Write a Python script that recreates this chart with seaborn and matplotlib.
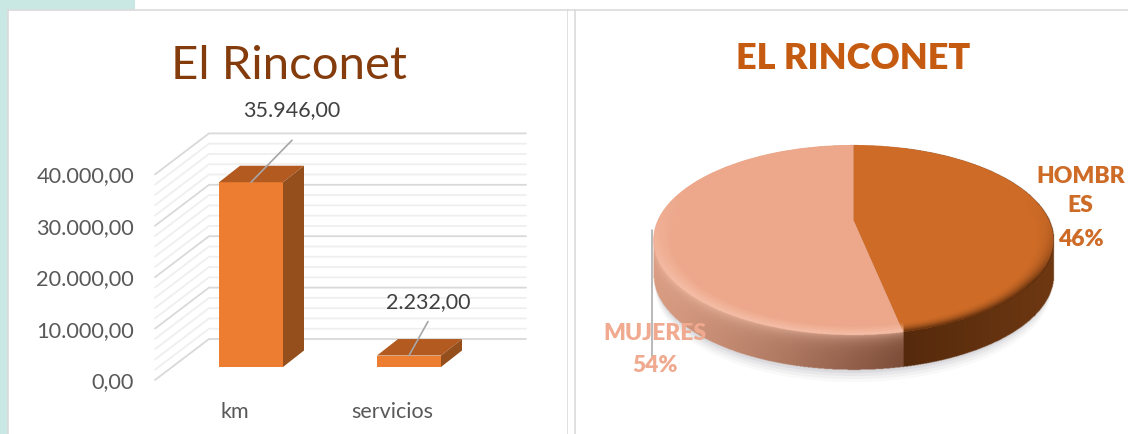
import numpy as np
import matplotlib
matplotlib.use("Agg")
import matplotlib.pyplot as plt
from matplotlib.patches import Rectangle, Polygon, Ellipse
import seaborn as sns

# data
categorias = ["km", "servicios"]
valores = [35946, 2232]
etiquetas_barras = ["35.946,00", "2.232,00"]
ticks_y = [0, 10000, 20000, 30000, 40000]
etiquetas_y = ["0,00", "10.000,00", "20.000,00", "30.000,00", "40.000,00"]
grupos = ["HOMBR\nES", "MUJERES"]
porcentajes = [46, 54]

W, H = 1128, 434
sns.set_theme(style="white")
plt.rcParams["font.family"] = ["Lato", "DejaVu Sans"]


def caja(fig, x0, y0, x1, y1, **kw):
    # axes colocado en pixeles de la imagen
    return fig.add_axes([x0 / W, 1 - y1 / H, (x1 - x0) / W, (y1 - y0) / H], **kw)


def mezcla(c1, c2, t):
    t = np.asarray(t)[..., None]
    a = np.array(matplotlib.colors.to_rgb(c1))
    b = np.array(matplotlib.colors.to_rgb(c2))
    return a * (1 - t) + b * t


fig = plt.figure(figsize=(W / 100, H / 100), dpi=100, facecolor="#C9E8E4")

# fondo y paneles
bg = caja(fig, 0, 0, W, H, zorder=0)
bg.set_xlim(0, W)
bg.set_ylim(H, 0)
bg.axis("off")
bg.add_patch(Rectangle((135, 0), W, 10, fc="white", ec="none"))
bg.add_patch(Rectangle((7.5, 9.5), 560.5, 430, fc="white", ec="#DADADA", lw=1.2))
bg.add_patch(Rectangle((568, 9.5), 7, 430, fc="white", ec="none"))
bg.add_patch(Rectangle((568, 9.5), 7, 0, ec="#DADADA", lw=1.2))
bg.add_patch(Rectangle((575, 9.5), 560, 430, fc="white", ec="#DADADA", lw=1.2))

# --- barras ---
ax = caja(fig, 155, 125, 526, 380, zorder=1)
ax.patch.set_alpha(0)
px_x = 158  # px por categoria
px_y = 51.4 / 10000  # px por unidad
x0_cat = 251


def dx(p):
    return p / px_x


def dy(p):
    return p / px_y


sns.barplot(x=categorias, y=valores, ax=ax, color="#ED7D31", saturation=1, width=0.405, linewidth=0, edgecolor="none")
ax.set_xlim(dx(155 - x0_cat), dx(526 - x0_cat))
ax.set_ylim(dy(367 - 380), dy(367 - 125))
ax.set_xlabel("")
ax.set_ylabel("")
sns.despine(ax=ax, left=True, bottom=True)

# paredes con la rejilla, cada 2000 y mas fuerte cada 10000
frente_x, frente_y = dx(155 - x0_cat), dy(367 - 380)
fondo_x, fondo_y = dx(209 - x0_cat), dy(367 - 339)
for v in range(0, ticks_y[-1] + 1, 2000):
    mayor = v % 10000 == 0
    c = "#D9D9D9" if mayor else "#EFEFEF"
    ax.plot([frente_x, fondo_x, ax.get_xlim()[1]],
            [frente_y + v, fondo_y + v, fondo_y + v],
            color=c, lw=1.3, zorder=0.5 if not mayor else 0.6, clip_on=False,
            solid_joinstyle="miter")

# caras laterales y superiores sacadas de las barras de seaborn
prof_x, prof_y = dx(21), dy(16.5)
for p in ax.patches:
    x, w, h = p.get_x(), p.get_width(), p.get_height()
    ax.add_patch(Polygon([(x, h), (x + w, h), (x + w + prof_x, h + prof_y), (x + prof_x, h + prof_y)],
                         fc="#B35A20", ec="none", zorder=2))
    ax.add_patch(Polygon([(x + w, 0), (x + w + prof_x, prof_y), (x + w + prof_x, h + prof_y), (x + w, h)],
                         fc="#954F1C", ec="none", zorder=2))

# etiquetas de datos con su linea guia
guias = [(41, 42), (19, 34)]
textos = [(41, 72), (19, 53)]
for i, (v, t) in enumerate(zip(valores, etiquetas_barras)):
    ax.plot([i, i + dx(guias[i][0])], [v, v + dy(guias[i][1])], color="#A6A6A6", lw=1.2, zorder=3, clip_on=False)
    ax.text(i + dx(textos[i][0]), v + dy(textos[i][1]), t, ha="center", va="center",
            fontsize=15.5, color="#404040", zorder=4, clip_on=False)

ax.set_yticks([frente_y + v for v in ticks_y], etiquetas_y, fontsize=15.7, color="#595959")
ax.set_xticks([dx(-16), 1 + dx(-17)], categorias, fontsize=15.5, color="#595959")
ax.tick_params(axis="y", length=0, pad=15)
ax.tick_params(axis="x", length=0, pad=16)

# --- pastel ---
cx, cy, rx, ry, grosor = 853.4, 240, 200, 95, 35
ap = caja(fig, 630, 135, 1075, 395, zorder=1)
ap.patch.set_alpha(0)
ext = [(630 - cx) / rx, (1075 - cx) / rx, (cy - 395) / ry, (cy - 135) / ry]
colores = ["#CD6B27", "#EDA78A"]
wedges, _ = ap.pie(porcentajes, colors=colores, startangle=90, counterclock=False, radius=1)
for w in wedges:
    # el vertice del pastel queda mas arriba por la perspectiva
    v = w.get_path().vertices
    v[np.hypot(v[:, 0], v[:, 1]) < 1e-6, 1] += 20 / ry
    w.set_zorder(2)
    w.set_edgecolor("none")

X, Y = np.meshgrid(np.linspace(ext[0], ext[1], 890), np.linspace(ext[3], ext[2], 520))
g = grosor / ry
corte = np.sin(2 * np.pi * porcentajes[0] / 100)
borde = np.sqrt(np.clip(1 - X ** 2, 0, 1))
dentro = np.abs(X) < 1

# sombra
for k, a in zip([13, 10, 7, 4], [0.05, 0.07, 0.09, 0.12]):
    ap.add_patch(Ellipse((0, -g - k / ry), 2 - 0.02, 2 - 0.02, fc="#8C8C99", ec="none", alpha=a, zorder=0))

# lateral con degradado
t = np.clip((X + 1) / (corte + 1), 0, 1)
lado = mezcla("#D89C82", "#7C4C38", t ** 1.2)
lado_h = mezcla("#552A0C", "#6E3812", np.clip((X - corte) / (1 - corte), 0, 1))
lado = np.where((X > corte)[..., None], lado_h, lado)
baja = np.clip((-borde - Y) / g, 0, 1)
claro = np.where(X > corte, 0, np.exp(-baja * 5) * 0.55)
lado = lado * (1 - claro[..., None]) + np.array(matplotlib.colors.to_rgb("#F6C3AD")) * claro[..., None]
alfa = (dentro & (Y <= borde) & (Y >= -g - borde)).astype(float)
ap.imshow(np.dstack([lado, alfa]), extent=ext, aspect="auto", zorder=1, interpolation="bilinear")

# bisel sobre la cara superior
r = np.hypot(X, Y)
f = np.clip((r - 0.9) / 0.1, 0, 1) * np.clip(0.55 - Y, 0, 1)
bisel = np.where((X > corte)[..., None],
                 np.array(matplotlib.colors.to_rgb("#4E2509")),
                 np.array(matplotlib.colors.to_rgb("#F7C5B0")))
alfa_b = np.where(X > corte, 0.9 * f ** 2, 0.8 * f) * (r <= 1)
ap.imshow(np.dstack([bisel * np.ones_like(lado), alfa_b]), extent=ext, aspect="auto", zorder=3, interpolation="bilinear")
ap.set_aspect("auto")
ap.set_xlim(ext[0], ext[1])
ap.set_ylim(ext[2], ext[3])
ap.axis("off")

# textos encima de todo
top = caja(fig, 0, 0, W, H, zorder=5)
top.set_xlim(0, W)
top.set_ylim(H, 0)
top.axis("off")
top.plot([652, 652], [230, 357], color="#A6A6A6", lw=1.1)
top.text(288.5, 66, "El Rinconet", ha="center", va="center", fontsize=34, color="#843C0C")
top.text(853.5, 58.5, "EL RINCONET", ha="center", va="center", fontsize=26, color="#C55A11", fontweight="heavy")
top.text(1080.5, 191, grupos[0], ha="center", va="center", fontsize=16.5, color=colores[0],
         fontweight="heavy", linespacing=1.45)
top.text(1080.5, 239, f"{porcentajes[0]}%", ha="center", va="center", fontsize=16.5, color=colores[0], fontweight="heavy")
top.text(655, 333, grupos[1], ha="center", va="center", fontsize=16.5, color="#F0AA90", fontweight="heavy")
top.text(655, 366, f"{porcentajes[1]}%", ha="center", va="center", fontsize=16.5, color="#F0AA90", fontweight="heavy")

fig.savefig("out.png", dpi=100, facecolor=fig.get_facecolor())
